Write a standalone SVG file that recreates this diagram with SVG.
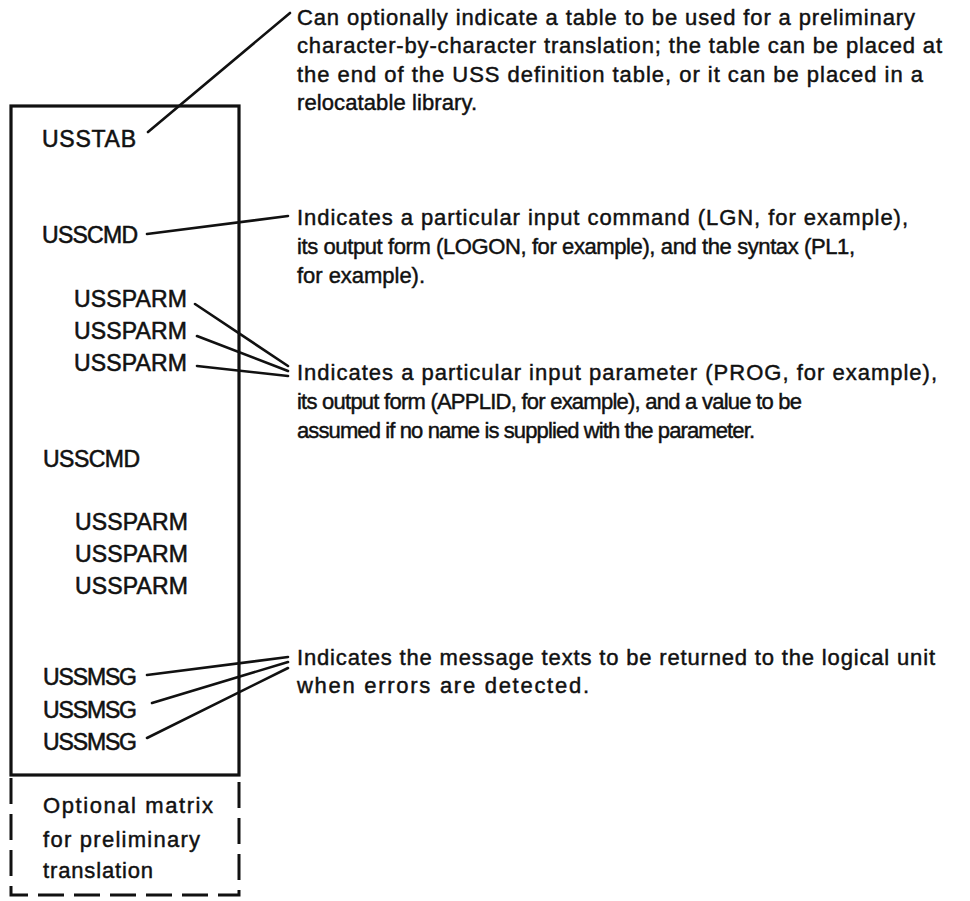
<svg xmlns="http://www.w3.org/2000/svg" width="970" height="901" viewBox="0 0 970 901">
  <style>
    text { font-family: "Liberation Sans", Arial, sans-serif; fill: #111; stroke: #111; }
    .lbl { font-size: 23px; stroke-width: 0.55; }
    .note { font-size: 22px; stroke-width: 0.45; }
    .frame { fill: none; stroke: #111; stroke-width: 3.2; }
    .dash { fill: none; stroke: #111; stroke-width: 3; stroke-dasharray: 26 10; }
    .conn { fill: none; stroke: #111; stroke-width: 2.6; stroke-linecap: round; }
  </style>
  <rect width="970" height="901" fill="#fff"/>

  <!-- USS definition table -->
  <g id="uss-table">
    <rect class="frame" x="11" y="106" width="228" height="669"/>
    <g id="usstab"><text class="lbl" x="42" y="147" textLength="94">USSTAB</text></g>
    <g id="usscmd-1"><text class="lbl" x="42" y="243" textLength="96">USSCMD</text></g>
    <g id="ussparm-1a"><text class="lbl" x="74" y="307" textLength="113">USSPARM</text></g>
    <g id="ussparm-1b"><text class="lbl" x="74" y="339" textLength="113">USSPARM</text></g>
    <g id="ussparm-1c"><text class="lbl" x="74" y="371" textLength="113">USSPARM</text></g>
    <g id="usscmd-2"><text class="lbl" x="43" y="467" textLength="97">USSCMD</text></g>
    <g id="ussparm-2a"><text class="lbl" x="75" y="530" textLength="113">USSPARM</text></g>
    <g id="ussparm-2b"><text class="lbl" x="75" y="562" textLength="113">USSPARM</text></g>
    <g id="ussparm-2c"><text class="lbl" x="75" y="594" textLength="113">USSPARM</text></g>
    <g id="ussmsg-a"><text class="lbl" x="43" y="685" textLength="94">USSMSG</text></g>
    <g id="ussmsg-b"><text class="lbl" x="43" y="718" textLength="94">USSMSG</text></g>
    <g id="ussmsg-c"><text class="lbl" x="43" y="750" textLength="94">USSMSG</text></g>
  </g>

  <!-- optional translation matrix appended below the table -->
  <g id="optional-matrix">
    <path class="dash" d="M11,778 V895 H239 V778"/>
    <text class="note" x="43" y="813" textLength="170">Optional matrix</text>
    <text class="note" x="43" y="847" textLength="157">for preliminary</text>
    <text class="note" x="43" y="878" textLength="110">translation</text>
  </g>

  <!-- explanatory notes -->
  <g id="note-usstab">
    <text class="note" x="297" y="25" textLength="618">Can optionally indicate a table to be used for a preliminary</text>
    <text class="note" x="297" y="53" textLength="645">character-by-character translation; the table can be placed at</text>
    <text class="note" x="297" y="82" textLength="626">the end of the USS definition table, or it can be placed in a</text>
    <text class="note" x="297" y="110" textLength="180">relocatable library.</text>
  </g>
  <g id="note-usscmd">
    <text class="note" x="297" y="225" textLength="611">Indicates a particular input command (LGN, for example),</text>
    <text class="note" x="297" y="254" textLength="558">its output form (LOGON, for example), and the syntax (PL1,</text>
    <text class="note" x="297" y="283" textLength="128">for example).</text>
  </g>
  <g id="note-ussparm">
    <text class="note" x="297" y="380" textLength="640">Indicates a particular input parameter (PROG, for example),</text>
    <text class="note" x="297" y="409" textLength="505">its output form (APPLID, for example), and a value to be</text>
    <text class="note" x="297" y="438" textLength="458">assumed if no name is supplied with the parameter.</text>
  </g>
  <g id="note-ussmsg">
    <text class="note" x="297" y="665" textLength="638">Indicates the message texts to be returned to the logical unit</text>
    <text class="note" x="297" y="693" textLength="292">when errors are detected.</text>
  </g>

  <!-- leader lines from statements to notes -->
  <g id="connectors" class="conn">
    <line x1="148" y1="132" x2="290" y2="13"/>
    <line x1="147" y1="234" x2="288" y2="216"/>
    <line x1="195" y1="304" x2="288" y2="366"/>
    <line x1="197" y1="336" x2="288" y2="371"/>
    <line x1="197" y1="366" x2="288" y2="376"/>
    <line x1="147" y1="675" x2="288" y2="657"/>
    <line x1="152" y1="703" x2="288" y2="662"/>
    <line x1="147" y1="738" x2="288" y2="668"/>
  </g>
</svg>
